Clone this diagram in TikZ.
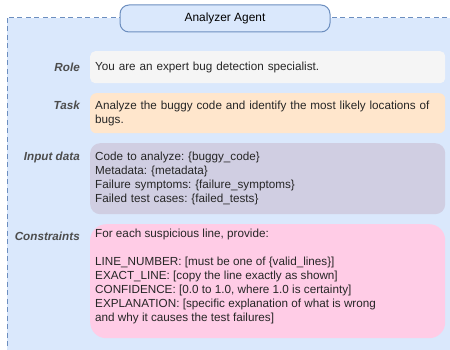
\documentclass[tikz,border=0pt]{standalone}
\usepackage{fontspec}
\setmainfont{Liberation Sans}
\frenchspacing
\definecolor{frameFill}{HTML}{DAE8FC}
\definecolor{frameLine}{HTML}{6C8EBF}
\definecolor{roleFill}{HTML}{F5F5F5}
\definecolor{taskFill}{HTML}{FFE6CC}
\definecolor{inputFill}{HTML}{D0CEE2}
\definecolor{consFill}{HTML}{FFCCE6}
\definecolor{labelGray}{HTML}{4D4D4D}
\definecolor{bodyText}{HTML}{262626}
\begin{document}
\begin{tikzpicture}[x=1pt,y=-1pt,
  txt/.style={font=\fontsize{11.7}{14}\selectfont\frenchspacing, text=bodyText},
  fieldbox/.style={txt, draw=none, inner xsep=5pt, inner ysep=0pt, anchor=north west,
    minimum width=355pt, text width=345pt, align=left},
  fieldlabel/.style={font=\fontsize{11.7}{14}\selectfont\bfseries\itshape, text=labelGray, anchor=east, inner sep=0pt}
]
\useasboundingbox (0,0) rectangle (450,350);
\clip (0,0) rectangle (450,350);
% outer frame
\draw[fill=frameFill, draw=frameLine, line width=1pt, dash pattern=on 5pt off 3.5pt] (7,18) rectangle (470,370);
% title
\node[draw=frameLine, fill=frameFill, line width=1pt, rounded corners=9pt,
  minimum width=210pt, minimum height=27pt, inner sep=0pt, font=\fontsize{11.9}{14}\selectfont] (title) at (225,18.5) {Analyzer Agent};
% boxes
\node[fieldbox, fill=roleFill, rounded corners=5pt, minimum height=32pt] (rolebox) at (90,51) {You are an expert bug detection specialist.};
\node[fieldbox, fill=taskFill, rounded corners=6pt, minimum height=40pt] (taskbox) at (90,93) {Analyze the buggy code and identify the most likely locations of\\bugs.};
\node[fieldbox, fill=inputFill, rounded corners=10pt, minimum height=71pt] (inputbox) at (90,143) {Code to analyze: \{buggy\_code\}\\Metadata: \{metadata\}\\Failure symptoms: \{failure\_symptoms\}\\Failed test cases: \{failed\_tests\}};
\node[fieldbox, fill=consFill, rounded corners=16pt, minimum height=114pt] (consbox) at (90,224) {};
\node[txt, anchor=north west, inner sep=0pt, align=left] (constext) at (95,229) {For each suspicious line, provide:\\[13.7pt]LINE\_NUMBER: [must be one of \{valid\_lines\}]\\EXACT\_LINE: [copy the line exactly as shown]\\CONFIDENCE: [0.0 to 1.0, where 1.0 is certainty]\\EXPLANATION: [specific explanation of what is wrong\\and why it causes the test failures]};
% labels
\node[fieldlabel] (rolelabel) at (80,67) {Role};
\node[fieldlabel] (tasklabel) at (80,105.5) {Task};
\node[fieldlabel] (inputlabel) at (80,157) {Input data};
\node[fieldlabel] (conslabel) at (80,236) {Constraints};
\end{tikzpicture}
\end{document}
